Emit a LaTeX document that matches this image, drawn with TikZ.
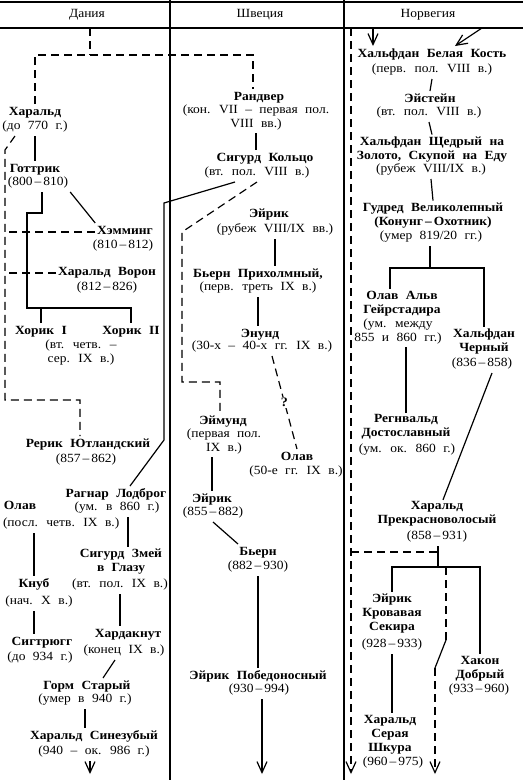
\documentclass[tikz,border=0pt]{standalone}
\usepackage{fontspec}
\setmainfont[FakeStretch=1.08,WordSpace=2.2]{Liberation Serif}
\usetikzlibrary{arrows.meta}

\begin{document}
\begin{tikzpicture}[x=1pt,y=-1pt,line width=1.2pt,
  nm/.style={font=\fontsize{12.5}{14}\selectfont\bfseries,align=center,inner sep=0pt,outer sep=2pt,
    execute at begin node=\strut,execute at end node=\strut},
  dt/.style={nm,font=\fontsize{12.5}{14}\selectfont},
  hd/.style={font=\fontsize{12.5}{14}\selectfont,inner sep=0pt},
  qm/.style={font=\fontsize{13}{14}\selectfont\bfseries,fill=white,inner sep=1pt},
  dsh/.style={dash pattern=on 8pt off 5pt},
  heavy/.style={line width=2pt},
  vtip/.style={-{Straight Barb[length=11pt,width=10pt,line width=1.2pt]}}]

\useasboundingbox (0,0) rectangle (523,780);

% Table frame
\draw (0,2) -- (523,2);
\draw (0,28) -- (523,28);
\draw (170,0) -- (170,780);
\draw (344,0) -- (344,780);
\node[hd] (dk) at (87,15) {Дания};
\node[hd] (se) at (260,15) {Швеция};
\node[hd] (no) at (428,15) {Норвегия};

% Denmark
\node[nm] (harald) at (35,113) {Харальд};
\node[dt] (harald-d) at (35,127) {(до 770 г.)};
\node[nm] (gottrik) at (35,170) {Готтрик};
\node[dt] (gottrik-d) at (38,183) {(800\,–\,810)};
\node[nm] (hemming) at (125,232) {Хэмминг};
\node[dt] (hemming-d) at (123,246) {(810\,–\,812)};
\node[nm] (klak) at (107,273) {Харальд Ворон};
\node[dt] (klak-d) at (107,288) {(812\,–\,826)};
\node[nm] (horik1) at (41,332) {Хорик I};
\node[nm] (horik2) at (131,332) {Хорик II};
\node[dt] (horik-d) at (81,353) {(вт. четв. –\\сер. IX в.)};
\node[nm] (rerik) at (88,445) {Рерик Ютландский};
\node[dt] (rerik-d) at (86,460) {(857\,–\,862)};
\node[nm] (ragnar) at (116,495) {Рагнар Лодброг};
\node[dt] (ragnar-d) at (117,508) {(ум. в 860 г.)};
\node[nm] (olav1) at (20,507) {Олав};
\node[dt,anchor=west] (olav1-d) at (1,524) {(посл. четв. IX в.)};
\node[nm] (sigsnake) at (121,562) {Сигурд Змей\\в Глазу};
\node[dt] (sigsnake-d) at (120,585) {(вт. пол. IX в.)};
\node[nm] (knub) at (34,585) {Кнуб};
\node[dt] (knub-d) at (39,602) {(нач. X в.)};
\node[nm] (sigtr) at (42,643) {Сигтрюгг};
\node[dt] (sigtr-d) at (40,658) {(до 934 г.)};
\node[nm] (hardak) at (128,635) {Хардакнут};
\node[dt] (hardak-d) at (124,651) {(конец IX в.)};
\node[nm] (gorm) at (87,687) {Горм Старый};
\node[dt] (gorm-d) at (85,700) {(умер в 940 г.)};
\node[nm] (bluetooth) at (94,737) {Харальд Синезубый};
\node[dt] (bluetooth-d) at (94,752) {(940 – ок. 986 г.)};

% Sweden
\node[nm] (randver) at (259,98) {Рандвер};
\node[dt] (randver-d) at (256,118) {(кон. VII – первая пол.\\VIII вв.)};
\node[nm] (sigring) at (265,159) {Сигурд Кольцо};
\node[dt] (sigring-d) at (257,173) {(вт. пол. VIII в.)};
\node[nm] (eirik1) at (269,215) {Эйрик};
\node[dt] (eirik1-d) at (275,230) {(рубеж VIII/IX вв.)};
\node[nm] (bjorn1) at (258,275) {Бьерн Прихолмный,};
\node[dt] (bjorn1-d) at (258,288) {(перв. треть IX в.)};
\node[nm] (anund) at (260,335) {Энунд};
\node[dt] (anund-d) at (262,347) {(30-х – 40-х гг. IX в.)};
\node[nm] (eymund) at (223,422) {Эймунд};
\node[dt] (eymund-d) at (224,442) {(первая пол.\\IX в.)};
\node[nm] (olav2) at (297,458) {Олав};
\node[dt] (olav2-d) at (296,472) {(50-е гг. IX в.)};
\node[nm] (eirik2) at (212,500) {Эйрик};
\node[dt] (eirik2-d) at (213,513) {(855\,–\,882)};
\node[nm] (bjorn2) at (258,553) {Бьерн};
\node[dt] (bjorn2-d) at (258,567) {(882\,–\,930)};
\node[nm] (eirikv) at (258,677) {Эйрик Победоносный};
\node[dt] (eirikv-d) at (259,690) {(930\,–\,994)};

% Norway
\node[nm] (hwb) at (432,55) {Хальфдан Белая Кость};
\node[dt] (hwb-d) at (432,70) {(перв. пол. VIII в.)};
\node[nm] (eystein) at (430,100) {Эйстейн};
\node[dt] (eystein-d) at (429,113) {(вт. пол. VIII в.)};
\node[nm] (hmild) at (432,150) {Хальфдан Щедрый на\\Золото, Скупой на Еду};
\node[dt] (hmild-d) at (431,170) {(рубеж VIII/IX в.)};
\node[nm] (gudred) at (433,216) {Гудред Великолепный\\(Конунг\,–\,Охотник)};
\node[dt] (gudred-d) at (431,237) {(умер 819/20 гг.)};
\node[nm] (olavalv) at (402,304) {Олав Альв\\Гейрстадира};
\node[dt] (olavalv-d) at (398,332) {(ум. между\\855 и 860 гг.)};
\node[nm] (hblack) at (484,342) {Хальфдан\\Черный};
\node[dt] (hblack-d) at (482,364) {(836\,–\,858)};
\node[nm] (regnv) at (406,428) {Регнвальд\\Достославный};
\node[dt] (regnv-d) at (407,450) {(ум. ок. 860 г.)};
\node[nm] (hfair) at (437,515) {Харальд\\Прекрасноволосый};
\node[dt] (hfair-d) at (437,537) {(858\,–\,931)};
\node[nm] (eblood) at (392,614) {Эйрик\\Кровавая\\Секира};
\node[dt] (eblood-d) at (392,645) {(928\,–\,933)};
\node[nm] (hakon) at (480,669) {Хакон\\Добрый};
\node[dt] (hakon-d) at (479,690) {(933\,–\,960)};
\node[nm] (hgrey) at (390,735) {Харальд\\Серая\\Шкура};
\node[dt] (hgrey-d) at (393,763) {(960\,–\,975)};

% Common root
\coordinate (root) at (90,28);
\coordinate (fork) at (90,55);
\draw[dsh] (root) -- (fork);
\draw[dsh] (harald.north) |- (fork) -| ([xshift=-6pt]randver.north);

% Danish lines
\coordinate (dl) at (5,150);
\coordinate (dlb) at (5,400);
\draw[dsh] ([xshift=-20pt]harald-d.south) -- (dl) -- (dlb) -| ([xshift=-8pt]rerik.north);
\draw[dsh] (hemming.west) -- (dl |- hemming.west);
\draw[dsh] (klak.west) -- (dl |- klak.west);
\draw (harald-d.south) -- (harald-d.south |- gottrik.north);
\coordinate (g1) at (42,213);
\coordinate (g2) at (27,308);
\draw ([xshift=4pt]gottrik-d.south) -- (g1) -| (g2) -| (horik2.north);
\draw (horik1.north) -- (horik1.north |- g2);
\draw (gottrik-d.south east) -- (hemming.north west);
\coordinate (rg1) at (164,203);
\coordinate (rg2) at (164,440);
\draw ([xshift=-22pt]sigring-d.south) -- (rg1) -- (rg2) -- ([xshift=14pt]ragnar.north);
\draw ([xshift=11pt]ragnar-d.south) -- ([xshift=7pt]sigsnake.north);
\draw (sigsnake-d.south) -- (sigsnake-d.south |- hardak.north);
\draw ([xshift=-9pt]hardak-d.south) -- ([xshift=16pt]gorm.north);
\draw (gorm-d.south) -- (gorm-d.south |- bluetooth.north);
\coordinate (dk-end) at (90,774);
\draw[vtip] (dk-end |- bluetooth-d.south) -- (dk-end);
\draw (knub.north |- olav1-d.south) -- (knub.north);
\draw (knub.north |- knub-d.south) -- (knub.north |- sigtr.north);

% Swedish lines
\draw (randver-d.south) -- (randver-d.south |- sigring.north);
\coordinate (sw1) at (182,232);
\coordinate (sw2) at (182,382);
\draw[dsh] (sigring-d.south) -- (sw1) -- (sw2) -| ([xshift=-3pt]eymund.north);
\draw (eirik1-d.south) -- (eirik1-d.south |- bjorn1.north);
\draw (bjorn1-d.south) -- (bjorn1-d.south |- anund.north);
\draw[dsh] ([xshift=10pt]anund-d.south) -- node[qm]{?} (olav2.north);
\draw (eirik2.north |- eymund-d.south) -- (eirik2.north);
\draw (eirik2-d.south) -- ([xshift=-20pt]bjorn2.north);
\draw[heavy] (bjorn2-d.south) -- (bjorn2-d.south |- eirikv.north);
\coordinate (se-end) at (262,774);
\draw[heavy,vtip] (se-end |- eirikv-d.south) -- (se-end);

% Norwegian lines
\coordinate (na1) at (373,28);
\coordinate (na2) at (482,28);
\draw[vtip] (na1) -- (na1 |- hwb.north);
\draw[vtip] (na2) -- ([xshift=23pt]hwb.north);
\draw (hwb-d.south) -- (eystein.north);
\draw (eystein-d.south) -- (hmild.north);
\draw (hmild-d.south) -- (gudred.north);
\coordinate (gbar) at (430,268);
\draw (gbar |- gudred-d.south) -- (gbar);
\draw ([xshift=-12pt]olavalv.north) |- (gbar) -| (hblack.north);
\draw (regnv.north |- olavalv-d.south) -- (regnv.north);
\draw ([xshift=10pt]hblack-d.south) -- ([xshift=6pt]hfair.north);
\coordinate (hbar) at (438,567);
\draw (hbar |- hfair-d.south) -- (hbar);
\draw (eblood.north) |- (hbar) -| (hakon.north);
\draw (eblood-d.south) -- (eblood-d.south |- hgrey.north);
\coordinate (nl-top) at (351,28);
\coordinate (nl-k) at (351,552);
\coordinate (nl-end) at (351,774);
\draw[dsh,vtip] (nl-top) -- (nl-end);
\draw[dsh] (nl-k) -- (nl-k -| hbar);
\coordinate (m1) at (446,567);
\coordinate (m2) at (446,640);
\coordinate (m3) at (435,668);
\coordinate (m4) at (435,774);
\draw[dsh] (m1) -- (m2);
\draw (m2) -- (m3);
\draw[dsh,vtip] (m3) -- (m4);

\end{tikzpicture}
\end{document}
